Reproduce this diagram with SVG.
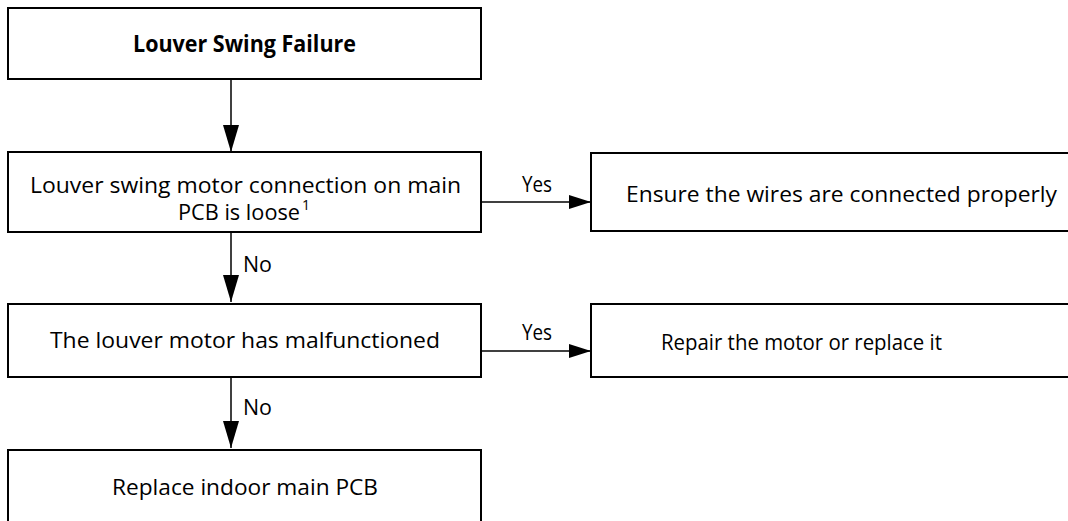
<svg xmlns="http://www.w3.org/2000/svg" width="1068" height="521" viewBox="0 0 1068 521">
<style>
.box{fill:#fff;stroke:#000;stroke-width:2}
.t{font-family:"Open Sans","Noto Sans","Liberation Sans",sans-serif;font-size:22.5px;fill:#000}
.b{font-weight:bold}
.ln{stroke:#000;stroke-width:1.5;fill:none}
</style>
<defs>
<marker id="ah" markerWidth="27" markerHeight="16" refX="27" refY="8" orient="auto" markerUnits="userSpaceOnUse">
<polygon points="0,0 27,8 0,16" fill="#000"/>
</marker>
<marker id="ahh" markerWidth="22" markerHeight="14" refX="22" refY="7" orient="auto" markerUnits="userSpaceOnUse">
<polygon points="0,0 22,7 0,14" fill="#000"/>
</marker>
</defs>
<rect width="1068" height="521" fill="#fff"/>
<g id="connectors">
<line class="ln" x1="231" y1="79" x2="231" y2="152" marker-end="url(#ah)"/>
<line class="ln" x1="231" y1="232" x2="231" y2="302" marker-end="url(#ah)"/>
<line class="ln" x1="231" y1="377" x2="231" y2="448" marker-end="url(#ah)"/>
<line class="ln" x1="481" y1="202" x2="591" y2="202" marker-end="url(#ahh)"/>
<line class="ln" x1="481" y1="351" x2="591" y2="351" marker-end="url(#ahh)"/>
<text class="t" x="243" y="272" textLength="29" lengthAdjust="spacingAndGlyphs">No</text>
<text class="t" x="243" y="415" textLength="29" lengthAdjust="spacingAndGlyphs">No</text>
<text class="t" x="522" y="192" textLength="30" lengthAdjust="spacingAndGlyphs">Yes</text>
<text class="t" x="522" y="340" textLength="30" lengthAdjust="spacingAndGlyphs">Yes</text>
</g>
<g id="n1">
<rect class="box" x="8" y="8" width="473" height="71"/>
<text class="t b" x="133" y="52" textLength="223" lengthAdjust="spacingAndGlyphs">Louver Swing Failure</text>
</g>
<g id="n2">
<rect class="box" x="8" y="152" width="473" height="80"/>
<text class="t"><tspan x="30" y="193" textLength="431" lengthAdjust="spacingAndGlyphs">Louver swing motor connection on main</tspan><tspan x="178" y="220" textLength="122" lengthAdjust="spacingAndGlyphs">PCB is loose</tspan><tspan x="302" y="210" style="font-size:14px">1</tspan></text>
</g>
<g id="n3">
<rect class="box" x="591" y="153" width="500" height="78"/>
<text class="t" x="626" y="202" textLength="431" lengthAdjust="spacingAndGlyphs">Ensure the wires are connected properly</text>
</g>
<g id="n4">
<rect class="box" x="8" y="304" width="473" height="73"/>
<text class="t" x="50" y="348" textLength="390" lengthAdjust="spacingAndGlyphs">The louver motor has malfunctioned</text>
</g>
<g id="n5">
<rect class="box" x="591" y="304" width="500" height="73"/>
<text class="t" x="661" y="350" textLength="281" lengthAdjust="spacingAndGlyphs">Repair the motor or replace it</text>
</g>
<g id="n6">
<rect class="box" x="8" y="450" width="473" height="100"/>
<text class="t" x="112" y="495" textLength="266" lengthAdjust="spacingAndGlyphs">Replace indoor main PCB</text>
</g>
</svg>
